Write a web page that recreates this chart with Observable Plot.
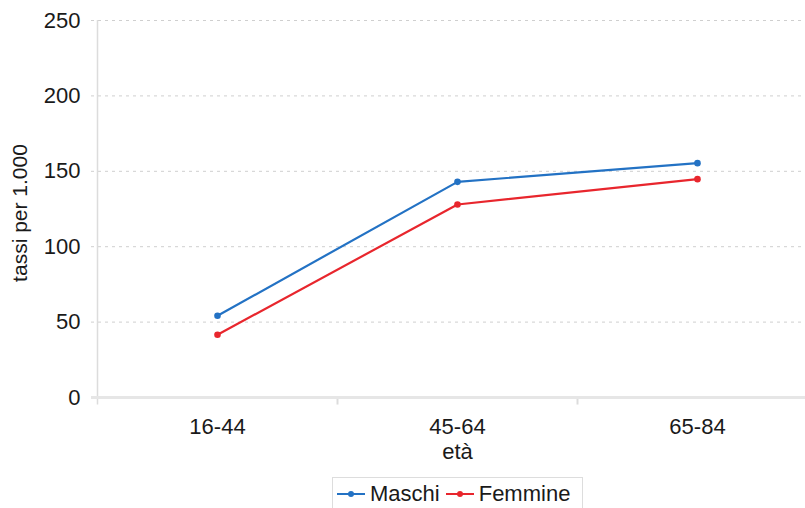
<!DOCTYPE html>
<html>
<head>
<meta charset="utf-8">
<script src="https://cdn.jsdelivr.net/npm/d3@7"></script>
<script src="https://cdn.jsdelivr.net/npm/@observablehq/plot@0.6"></script>
<style>
  html, body { margin: 0; padding: 0; background: #fff; overflow: hidden; width: 805px; height: 508px; }
  body { font-family: "Liberation Sans", Arial, Helvetica, sans-serif; }
  #chart { width: 805px; overflow: hidden; }
  #chart svg { display: block; max-width: none !important; width: 817px !important; height: 476px !important; }
  #legend { position: absolute; left: 332px; top: 477px; width: 251px; height: 34px; border: 1px solid #ddd; box-sizing: border-box;
    display: flex; align-items: center; font-size: 22px; color: #1a1a1a; padding-left: 4px; }
  .item { display: flex; align-items: center; margin-right: 6px; }
  .sw { position: relative; width: 28px; height: 2px; margin-right: 5px; }
  .sw::after { content: ""; position: absolute; left: 11px; top: -2px; width: 6px; height: 6px; border-radius: 3px; background: inherit; }
</style>
</head>
<body>
<div id="chart"></div>
<div id="legend"></div>
<script>
const categories = ["16-44", "45-64", "65-84"];
const series = ["Maschi", "Femmine"];
const maschi = [54.2, 143.0, 155.4];
const femmine = [41.6, 128.0, 144.8];
const yTicks = [0, 50, 100, 150, 200, 250];
const colors = ["#2372c4", "#e8262d"];

const data = [];
categories.forEach((c, i) => {
  data.push({age: c, i, series: "Maschi", value: maschi[i]});
  data.push({age: c, i, series: "Femmine", value: femmine[i]});
});

const chart = Plot.plot({
  width: 817,
  height: 476,
  marginLeft: 97,
  marginRight: 0,
  marginTop: 20,
  marginBottom: 79,
  style: {fontFamily: "'Liberation Sans', Arial, Helvetica, sans-serif", fontSize: "22px", color: "#1a1a1a", background: "#fff", maxWidth: "none"},
  x: {domain: [-0.5, categories.length - 0.5]},
  y: {domain: [0, 250]},
  color: {domain: series, range: colors},
  marks: [
    Plot.ruleY(yTicks.filter(d => d > 0), {x1: -0.525, x2: categories.length - 0.5, stroke: "#cfcfcf", strokeDasharray: "3,4", strokeWidth: 1}),
    Plot.ruleX([-0.5], {y1: -5, y2: 250, stroke: "#dcdcdc", strokeWidth: 1.5}),
    Plot.ruleX([0.5, 1.5], {y1: -5, y2: 0, stroke: "#dcdcdc", strokeWidth: 2}),
    Plot.ruleY([0], {x1: -0.525, x2: categories.length - 0.5, stroke: "#e6e6e6", strokeWidth: 3}),
    Plot.axisY({ticks: yTicks, tickSize: 0, tickPadding: 17, label: null, fontSize: 22}),
    Plot.axisX({ticks: categories.map((c, i) => i), tickFormat: i => categories[i], tickSize: 0, tickPadding: 21, label: null, fontSize: 22}),
    Plot.text(["età"], {frameAnchor: "bottom", dy: 61, fontSize: 22, fill: "#1a1a1a"}),
    Plot.text(["tassi per 1.000"], {frameAnchor: "left", textAnchor: "middle", dx: -77, dy: 4, rotate: -90, fontSize: 21, fill: "#1a1a1a"}),
    Plot.line(data, {x: "i", y: "value", stroke: "series", strokeWidth: 2.2}),
    Plot.dot(data, {x: "i", y: "value", fill: "series", r: 3.3})
  ]
});
document.getElementById("chart").appendChild(chart);

const legend = document.getElementById("legend");
series.forEach((s, k) => {
  const item = document.createElement("div");
  item.className = "item";
  const sw = document.createElement("div");
  sw.className = "sw";
  sw.style.background = colors[k];
  const label = document.createElement("span");
  label.textContent = s;
  item.appendChild(sw);
  item.appendChild(label);
  legend.appendChild(item);
});
</script>
</body>
</html>
